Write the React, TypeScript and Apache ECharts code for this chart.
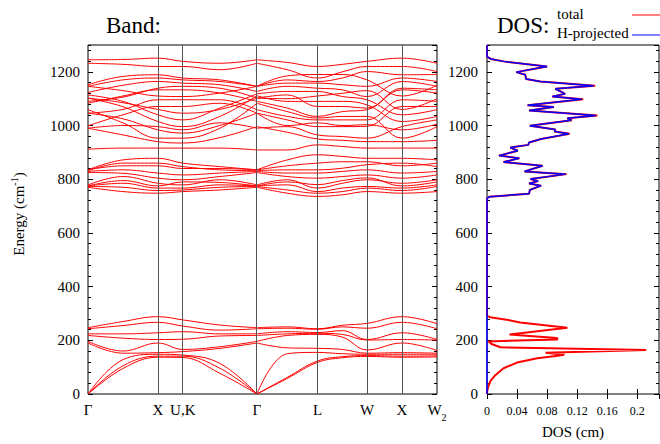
import React, { useEffect, useRef } from 'react';
import * as echarts from 'echarts';

const FONT = "'Liberation Serif', 'Times New Roman', serif";

// High-symmetry path (units of 2pi/a)
const kTicks = [0, 1, 1.354, 2.414, 3.28, 3.987, 4.487, 4.987];
const kTickLabels = ['Γ', 'X', 'U,K', 'Γ', 'L', 'W', 'X', 'W2'];
// k points at which the bands were read: Γ, ΓX, X, U, KΓ, Γ, ΓL, L, LW, W, X, W2
const kSample = [0, 0.5, 1, 1.354, 1.884, 2.414, 2.847, 3.28, 3.634, 3.987, 4.487, 4.987];
const gammaIndex = 5;

// Low-energy branches (cm^-1) at each sampled k point
const lowG = [0, 0, 0, 190, 196, 218, 224, 243, 247];
const lowGX = [95, 105, 128, 152, 160, 208, 224, 255, 270];
const lowX = [137, 141, 148, 154, 190, 203, 228, 267, 288];
const lowU = [136, 141, 145, 158, 166, 204, 232, 253, 276];
const lowKG = [77, 96, 114, 170, 176, 216, 224, 238, 257];
const lowG2 = [0, 0, 0, 190, 196, 218, 224, 243, 247];
const lowGL = [58, 62, 150, 172, 218, 224, 232, 245, 250];
const lowL = [118, 123, 155, 170, 222, 226, 229, 241, 243];
const lowLW = [135, 139, 150, 166, 212, 222, 236, 250, 256];
const lowW = [140, 143, 148, 152, 164, 201, 203, 245, 263];
const lowX2 = [137, 141, 148, 154, 190, 203, 228, 267, 288];
const lowW2 = [138, 142, 148, 152, 162, 201, 203, 243, 262];

// High-energy (H) branches, one array per band along the path
const hb1 = [1245, 1246, 1251, 1239, 1232, 1245, 1235, 1220, 1228, 1239, 1251, 1232];
const hb2 = [1232, 1228, 1220, 1220, 1208, 1232, 1208, 1177, 1200, 1220, 1220, 1201];
const hb3 = [1152, 1183, 1189, 1177, 1170, 1146, 1170, 1164, 1177, 1201, 1189, 1190];
const hb4 = [1146, 1170, 1177, 1170, 1164, 1146, 1158, 1158, 1152, 1146, 1177, 1164];
const hb5 = [1123, 1150, 1164, 1158, 1152, 1127, 1146, 1139, 1133, 1108, 1164, 1146];
const hb6 = [1114, 1090, 1040, 1021, 1065, 1118, 1127, 1127, 1108, 1096, 1040, 1059];
const hb7 = [1102, 1070, 1015, 996, 1034, 1111, 1090, 1090, 1090, 1077, 1015, 1034];
const hb8 = [1090, 1106, 1139, 1146, 1139, 1102, 1114, 1071, 1071, 1065, 1139, 1133];
const hb9 = [1083, 1110, 1133, 1133, 1121, 1090, 1065, 1034, 1052, 1059, 1133, 1121];
const hb10 = [1059, 1010, 953, 953, 990, 1083, 1052, 1028, 1034, 1034, 953, 996];
const hb11 = [1046, 1060, 1096, 1096, 1096, 1059, 1034, 1021, 1021, 1021, 1096, 1090];
const hb12 = [999, 1040, 1071, 1071, 1083, 1046, 1021, 996, 996, 997, 1071, 1071];
const hb13 = [990, 1000, 996, 984, 1010, 990, 996, 965, 959, 953, 996, 1021];
const hb14 = [912, 916, 916, 916, 916, 909, 909, 928, 922, 916, 916, 916];
const hb15 = [835, 872, 878, 860, 847, 835, 872, 891, 885, 878, 878, 872];
const hb16 = [832, 860, 860, 847, 835, 832, 835, 835, 841, 854, 860, 847];
const hb17 = [829, 835, 823, 816, 823, 829, 823, 823, 829, 835, 823, 829];
const hb18 = [825, 822, 804, 798, 810, 825, 810, 804, 810, 816, 804, 816];
const hb19 = [779, 810, 785, 779, 798, 779, 798, 767, 785, 798, 785, 798];
const hb20 = [775, 785, 767, 767, 779, 775, 779, 754, 767, 773, 767, 779];
const hb21 = [773, 770, 758, 760, 770, 773, 760, 748, 754, 767, 758, 773];
const hb22 = [770, 754, 748, 754, 760, 770, 748, 736, 742, 754, 748, 754];
const hb23 = [1146, 1130, 1110, 1108, 1121, 1146, 1185, 1190, 1190, 1170, 1110, 1150];
const hb24 = [1102, 1085, 1060, 1046, 1060, 1102, 1100, 1110, 1120, 1130, 1060, 1100];
const hb25 = [1046, 1025, 984, 972, 1000, 1046, 1000, 1010, 1000, 1003, 984, 1005];
const hb26 = [990, 965, 940, 935, 955, 996, 975, 950, 945, 940, 940, 945];
const hb27 = [835, 850, 850, 840, 840, 835, 850, 860, 865, 865, 850, 860];
const hb28 = [775, 795, 775, 790, 788, 775, 790, 780, 795, 805, 775, 790];

// DOS, low-energy part
const dosLowEnergy = [0, 15, 30, 50, 70, 96, 117, 133, 141, 146, 154, 164, 174, 186, 196, 203, 209, 222, 247, 266, 277, 286, 292];
const dosLowTotal = [0, 0.0005, 0.002, 0.005, 0.011, 0.022, 0.04, 0.067, 0.089, 0.103, 0.078, 0.212, 0.018, 0.006, 0.002, 0.094, 0.093, 0.03, 0.107, 0.044, 0.026, 0.004, 0];
const dosLowH = [0, 0, 0, 0, 0, 0, 0, 0, 0, 0, 0, 0, 0, 0, 0, 0, 0, 0, 0, 0, 0, 0, 0];
// DOS, high-energy part
const dosHighEnergy = [728, 735, 746, 760, 776, 784, 793, 801, 819, 829, 850, 864, 878, 888, 906, 918, 928, 937, 950, 969, 978, 985, 999, 1020, 1027, 1037, 1056, 1069, 1076, 1098, 1108, 1118, 1137, 1148, 1164, 1173, 1189, 1199, 1220, 1239, 1248, 1257, 1300];
const dosHighTotal = [0, 0.003, 0.056, 0.057, 0.072, 0.056, 0.068, 0.058, 0.106, 0.05, 0.074, 0.022, 0.043, 0.016, 0.041, 0.031, 0.055, 0.056, 0.072, 0.11, 0.09, 0.091, 0.057, 0.113, 0.107, 0.147, 0.056, 0.089, 0.054, 0.128, 0.087, 0.104, 0.091, 0.144, 0.071, 0.052, 0.051, 0.039, 0.08, 0.022, 0.005, 0, 0];
const dosHighH = [0, 0.003, 0.056, 0.057, 0.072, 0.056, 0.068, 0.058, 0.105, 0.05, 0.074, 0.022, 0.043, 0.016, 0.041, 0.031, 0.055, 0.056, 0.072, 0.109, 0.09, 0.091, 0.057, 0.112, 0.107, 0.145, 0.056, 0.089, 0.054, 0.126, 0.087, 0.104, 0.091, 0.142, 0.071, 0.052, 0.051, 0.039, 0.08, 0.022, 0.005, 0, 0];

const yTicks = { min: 0, max: 1300, major: 200, minor: 40 };
const dosTicks = { min: 0, max: 0.229, step: 0.04 };

function transpose(rows: number[][]): number[][] {
  const n = rows[0].length;
  const out: number[][] = [];
  for (let b = 0; b < n; b++) out.push(rows.map((r) => r[b]));
  return out;
}

function buildOption() {
  const lowRows = [lowG, lowGX, lowX, lowU, lowKG, lowG2, lowGL, lowL, lowLW, lowW, lowX2, lowW2];
  const highBands = [hb1, hb2, hb3, hb4, hb5, hb6, hb7, hb8, hb9, hb10, hb11, hb12, hb13, hb14,
    hb15, hb16, hb17, hb18, hb19, hb20, hb21, hb22, hb23, hb24, hb25, hb26, hb27, hb28];
  const bands = [...transpose(lowRows), ...highBands];

  const bandSeries: any[] = [];
  bands.forEach((b) => {
    const pts = kSample.map((k, i) => [k, b[i]]);
    // split at the central Γ so the curves keep their cusp there
    [pts.slice(0, gammaIndex + 1), pts.slice(gammaIndex)].forEach((seg) => {
      bandSeries.push({
        type: 'line',
        xAxisIndex: 0,
        yAxisIndex: 0,
        data: seg,
        smooth: 0.4,
        symbol: 'none',
        showSymbol: false,
        silent: true,
        z: 3,
        lineStyle: { color: '#ff0000', width: 1 },
      });
    });
  });

  const dosE = [...dosLowEnergy, ...dosHighEnergy];
  const dosT = [...dosLowTotal, ...dosHighTotal];
  const dosHp = [...dosLowH, ...dosHighH];

  const yMajor = (grid: number, pos: string, labels: boolean, margin: number) => ({
    type: 'value', gridIndex: grid, position: pos, min: yTicks.min, max: yTicks.max, interval: yTicks.major,
    axisLine: { show: false }, splitLine: { show: false },
    axisTick: { show: true, inside: true, length: 5, lineStyle: { color: '#000', width: 1 } },
    axisLabel: {
      show: labels, showMaxLabel: false, margin, fontSize: 15, fontFamily: FONT, color: '#000',
      formatter: (v: number) => String(v),
    },
  });
  const yMinor = (grid: number, pos: string) => ({
    type: 'value', gridIndex: grid, position: pos, min: yTicks.min, max: yTicks.max, interval: yTicks.minor,
    axisLine: { show: false }, splitLine: { show: false },
    axisTick: { show: true, inside: true, length: 3, lineStyle: { color: '#000', width: 1 } },
    axisLabel: { show: false },
  });

  const textStyle = (o: any) => ({ fontFamily: FONT, fill: '#000', ...o });

  return {
    animation: false,
    backgroundColor: '#fff',
    textStyle: { fontFamily: FONT },
    grid: [
      { left: 88, top: 45, width: 349, height: 349, show: true, borderColor: '#000', borderWidth: 1, backgroundColor: 'transparent' },
      { left: 487, top: 45, width: 172, height: 349, show: true, borderColor: '#000', borderWidth: 1, backgroundColor: 'transparent' },
    ],
    xAxis: [
      {
        type: 'value', gridIndex: 0, min: kTicks[0], max: kTicks[kTicks.length - 1],
        axisLine: { show: false }, splitLine: { show: false }, axisTick: { show: false },
        axisLabel: {
          show: true, customValues: kTicks, showMinLabel: true, showMaxLabel: true, hideOverlap: false, margin: 8,
          formatter: (v: number) => {
            const i = kTicks.findIndex((t) => Math.abs(t - v) < 1e-4);
            if (i < 0) return '';
            const lab = kTickLabels[i];
            if (lab === 'W2') return '{n|W}{s|2}';
            return '{n|' + lab + '}';
          },
          rich: {
            n: { fontSize: 15, fontFamily: FONT, color: '#000', verticalAlign: 'top', lineHeight: 16 },
            s: { fontSize: 10, fontFamily: FONT, color: '#000', verticalAlign: 'bottom', padding: [10, 0, 0, 0] },
          },
        },
      },
      {
        type: 'value', gridIndex: 1, min: dosTicks.min, max: dosTicks.max, interval: dosTicks.step,
        axisLine: { show: false }, splitLine: { show: false },
        axisTick: { show: true, inside: true, length: 5, lineStyle: { color: '#000' } },
        axisLabel: { showMaxLabel: false, margin: 11, fontSize: 12, fontFamily: FONT, color: '#000' },
        name: 'DOS (cm)', nameLocation: 'middle', nameGap: 30,
        nameTextStyle: { fontSize: 15, fontFamily: FONT, color: '#000' },
      },
      {
        type: 'value', gridIndex: 1, position: 'top', min: dosTicks.min, max: dosTicks.max, interval: dosTicks.step,
        axisLine: { show: false }, splitLine: { show: false },
        axisTick: { show: true, inside: true, length: 5, lineStyle: { color: '#000' } },
        axisLabel: { show: false },
      },
    ],
    yAxis: [
      yMajor(0, 'left', true, 8),
      yMinor(0, 'left'),
      yMajor(0, 'right', false, 8),
      yMinor(0, 'right'),
      yMajor(1, 'left', true, 9),
      yMinor(1, 'left'),
      yMajor(1, 'right', false, 8),
      yMinor(1, 'right'),
    ],
    series: [
      {
        type: 'line', xAxisIndex: 0, yAxisIndex: 0, data: [], symbol: 'none', silent: true, z: 1,
        markLine: {
          silent: true, symbol: ['none', 'none'], label: { show: false },
          lineStyle: { color: '#555', width: 1, type: 'solid' },
          emphasis: { disabled: true },
          data: kTicks.slice(1, -1).map((v) => ({ xAxis: v })),
        },
      },
      ...bandSeries,
      {
        name: 'total', type: 'line', xAxisIndex: 1, yAxisIndex: 4,
        data: dosE.map((e, i) => [dosT[i], e]),
        symbol: 'none', silent: true, z: 3,
        lineStyle: { color: '#ff0000', width: 2 },
      },
      {
        name: 'H-projected', type: 'line', xAxisIndex: 1, yAxisIndex: 4,
        data: dosE.map((e, i) => [dosHp[i], e]),
        symbol: 'none', silent: true, z: 4,
        lineStyle: { color: '#0000ff', width: 1.5 },
      },
    ],
    graphic: [
      { type: 'text', x: 106, y: 25, silent: true, style: textStyle({ text: 'Band:', fontSize: 23, textAlign: 'left', align: 'left', textVerticalAlign: 'middle', verticalAlign: 'middle' }) },
      { type: 'text', x: 497, y: 25, silent: true, style: textStyle({ text: 'DOS:', fontSize: 23, textAlign: 'left', align: 'left', textVerticalAlign: 'middle', verticalAlign: 'middle' }) },
      { type: 'text', x: 557, y: 14, silent: true, style: textStyle({ text: 'total', fontSize: 15, textAlign: 'left', align: 'left', textVerticalAlign: 'middle', verticalAlign: 'middle' }) },
      { type: 'text', x: 557, y: 33, silent: true, style: textStyle({ text: 'H-projected', fontSize: 15, textAlign: 'left', align: 'left', textVerticalAlign: 'middle', verticalAlign: 'middle' }) },
      { type: 'line', silent: true, shape: { x1: 632, y1: 15, x2: 660, y2: 15 }, style: { stroke: '#ff0000', lineWidth: 1 } },
      { type: 'line', silent: true, shape: { x1: 632, y1: 35, x2: 660, y2: 35 }, style: { stroke: '#0000ff', lineWidth: 1 } },
      {
        type: 'text', x: 18, y: 214, rotation: Math.PI / 2, silent: true,
        style: {
          text: '{a|Energy (cm}{b|-1}{a|)}',
          textAlign: 'center', align: 'center', textVerticalAlign: 'middle', verticalAlign: 'middle',
          fill: '#000',
          rich: {
            a: { fontSize: 15, fontFamily: FONT, fill: '#000', color: '#000', verticalAlign: 'bottom' },
            b: { fontSize: 10, fontFamily: FONT, fill: '#000', color: '#000', verticalAlign: 'top', padding: [0, 0, 7, 0] },
          },
        },
      },
    ],
  };
}

export default function App() {
  const ref = useRef<HTMLDivElement>(null);
  useEffect(() => {
    if (!ref.current) return;
    const chart = echarts.init(ref.current, null, { renderer: 'svg' });
    chart.setOption(buildOption() as any);
    return () => chart.dispose();
  }, []);
  return (
    <div
      ref={ref}
      style={{ position: 'fixed', left: 0, top: 0, width: 660, height: 444, background: '#fff' }}
    />
  );
}
